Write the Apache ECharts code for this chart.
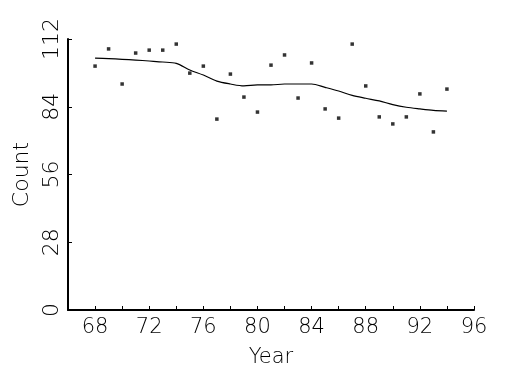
<!DOCTYPE html>
<html><head><meta charset="utf-8">
<script src="https://cdn.jsdelivr.net/npm/echarts@6/dist/echarts.min.js"></script>
<style>html,body{margin:0;padding:0;background:#fff}#c{width:525px;height:375px}</style>
</head><body><div id="c"></div>
<script>
const years = [68,69,70,71,72,73,74,75,76,77,78,79,80,81,82,83,84,85,86,87,88,89,90,91,92,93,94];
const counts = [100.8,107.9,93.4,106.2,107.4,107.4,109.9,97.9,100.8,78.9,97.5,88.0,81.8,101.2,105.4,87.6,102.1,83.1,79.3,109.9,92.6,79.8,76.9,79.8,89.3,73.6,91.3];
const smoothYears = [68,69,70,71,72,73,74,75,76,77,78,79,80,81,82,83,84,85,86,87,88,89,90,91,92,93,94];
const smoothCounts = [104.1,103.9,103.6,103.3,102.9,102.5,101.9,99.2,97.1,94.6,93.4,92.6,93.0,93.0,93.4,93.4,93.4,92.0,90.5,88.7,87.5,86.4,84.9,83.8,83.1,82.5,82.2];
const xLabelYears = [68,72,76,80,84,88,92,96];
const yTicks = [0,28,56,84,112];

const font = {fontFamily:'DejaVu Sans', fontWeight:200, color:'#000'};
const chart = echarts.init(document.getElementById('c'));
chart.setOption({
  animation:false,
  backgroundColor:'#fff',
  grid:{left:68,right:51,top:39,bottom:65},
  xAxis:{
    type:'value', min:66, max:96, interval:2,
    name:'Year', nameLocation:'middle', nameGap:37,
    nameTextStyle:Object.assign({fontSize:21},font),
    axisLine:{lineStyle:{color:'#000',width:2}},
    axisTick:{inside:true,length:4,lineStyle:{color:'#000',width:1}},
    axisLabel:Object.assign({fontSize:21, margin:7,
      formatter:v=> xLabelYears.includes(v) ? String(v) : ''},font),
    splitLine:{show:false}
  },
  yAxis:{
    type:'value', min:yTicks[0], max:yTicks[yTicks.length-1], interval:28,
    name:'Count', nameLocation:'middle', nameGap:28, nameRotate:90,
    nameTextStyle:Object.assign({fontSize:22},font),
    axisLine:{show:true,lineStyle:{color:'#000',width:2}},
    axisTick:{show:true,inside:true,length:4,lineStyle:{color:'#000',width:1}},
    axisLabel:Object.assign({fontSize:22, rotate:90, margin:5},font),
    splitLine:{show:false}
  },
  series:[
    {type:'scatter', data:years.map((y,i)=>[y,counts[i]]), symbol:'rect', symbolSize:3.5,
     itemStyle:{color:'#000'}},
    {type:'line', data:smoothYears.map((y,i)=>[y,smoothCounts[i]]), showSymbol:false, smooth:0.3,
     lineStyle:{color:'#000',width:1.2}}
  ]
});
</script></body></html>
